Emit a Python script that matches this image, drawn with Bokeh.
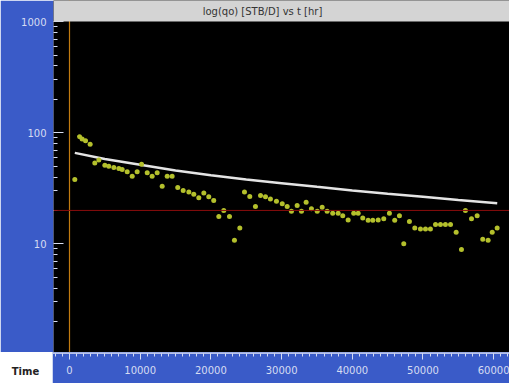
from bokeh.plotting import figure
from bokeh.layouts import column, row
from bokeh.models import Span, Label, FixedTicker, BoxAnnotation
from bokeh.embed import file_html
from bokeh.resources import INLINE

# Oil rate history (time in hours, rate in STB/D)
t_hr = [750, 1420, 1790, 2270, 2920, 3580, 4150, 5000, 5560, 6270, 6980, 7450,
        8160, 8870, 9570, 10190, 10990, 11690, 12400, 13110, 13820, 14520, 15310,
        16080, 16880, 17580, 18290, 19000, 19700, 20400, 21120, 21820, 22630,
        23330, 24090, 24750, 25500, 26300, 27020, 27720, 28420, 29270, 30090,
        30790, 31390, 32200, 32810, 33470, 34220, 35040, 35740, 36440, 37230,
        38000, 38650, 39410, 40200, 40830, 41480, 42240, 42900, 43660, 44450,
        45250, 46000, 46670, 47280, 48080, 48840, 49640, 50350, 51050, 51770,
        52470, 53170, 53890, 54690, 55440, 56000, 56860, 57660, 58450, 59210,
        59790, 60490]
qo = [38, 92, 88, 85, 79, 53.6, 57, 51, 50, 48.7, 47.7, 46.8,
      44.5, 40.6, 44.5, 52, 43.7, 40.6, 43.7, 33, 40.6, 40.6, 32.1,
      30.3, 29.3, 27.9, 26, 28.7, 26.5, 24.6, 17.6, 20, 17.6,
      10.8, 13.9, 29.3, 26.7, 21.7, 27.3, 26.5, 25.4, 24.2, 23,
      21.7, 19.7, 22.1, 19.7, 23.7, 20.7, 19.7, 21.4, 19.7, 18.9,
      18.9, 17.9, 16.4, 18.9, 18.9, 17.1, 16.3, 16.3, 16.4, 16.8,
      18.9, 16.3, 17.9, 10, 15.9, 13.9, 13.6, 13.6, 13.6, 14.9,
      14.9, 14.9, 14.9, 12.7, 8.9, 20, 16.8, 17.9, 11, 10.8,
      12.7, 13.9]

# Decline trend curve
t_fit = [750, 5000, 10000, 15000, 20000, 25000, 30000, 35000, 40000,
         45000, 50000, 55000, 60500]
q_fit = [66, 58, 51.5, 45.7, 41.5, 38, 35.2, 32.6, 30.3, 28.3, 26.5, 24.8, 23.2]

# Reference rate level and time origin marker
q_limit = 20
t_origin = 0

x_ticks = [0, 10000, 20000, 30000, 40000, 50000, 60000]
y_ticks = [1, 10, 100, 1000]
y_tick_labels = {1: "", 10: "10", 100: "100", 1000: "1000"}

title_text = "log(qo) [STB/D] vs t [hr]"
x_name = "Time"

W, H = 509, 383
LEFT, TOP, BOTTOM = 53, 21, 31
FW, PH = W - LEFT, H - BOTTOM          # plot area width, main figure height
BLUE = "#3a5bc8"
TICK = "#d6dcf2"
FONT = "DejaVu Sans"


def bare(fig, bg):
    fig.background_fill_color = bg
    fig.border_fill_color = bg
    fig.outline_line_color = None
    fig.xgrid.visible = False
    fig.ygrid.visible = False
    fig.title.visible = False
    return fig


# --- main plot with the log rate axis; its top strip carries the title -----
p = bare(figure(width=W, height=PH, y_axis_type="log",
                x_range=(-2263, 62235), y_range=(1.05, 1556),
                x_axis_location=None,
                output_backend="svg", toolbar_location=None,
                min_border_left=LEFT, min_border_right=0,
                min_border_top=0, min_border_bottom=0),
         "black")
p.border_fill_color = BLUE

ya = p.yaxis[0]
ya.ticker = FixedTicker(ticks=y_ticks,
                        minor_ticks=[m * d for d in [1, 10, 100] for m in range(2, 10)])
ya.major_label_overrides = y_tick_labels
ya.major_tick_in = 10
ya.major_tick_out = 0
ya.minor_tick_in = 4
ya.minor_tick_out = 0
ya.major_tick_line_color = TICK
ya.minor_tick_line_color = TICK
ya.axis_line_color = None
ya.major_label_standoff = 7
ya.major_label_text_color = TICK
ya.major_label_text_font = FONT
ya.major_label_text_font_size = "10px"

p.add_layout(Span(location=t_origin, dimension="height",
                  line_color="#c07a10", line_width=1.2))
p.add_layout(Span(location=q_limit, dimension="width",
                  line_color="#8a0c0c", line_width=1))

p.line(t_fit, q_fit, line_color="#e4e4e4", line_width=2.5)
p.scatter(t_hr, qo, size=5, fill_color="#b4c02c", line_color=None)

# title strip (screen offsets from the plot area's lower-left corner)
p.add_layout(BoxAnnotation(left=0, right=FW, bottom=PH - TOP, top=PH,
                           left_units="screen", right_units="screen",
                           bottom_units="screen", top_units="screen",
                           fill_color="#d4d4d4", fill_alpha=1,
                           line_color=None, level="overlay"))
p.add_layout(Label(x=262 - LEFT, y=PH - 10.5, x_units="screen", y_units="screen",
                   text=title_text, text_align="center", text_baseline="middle",
                   text_font=FONT, text_font_size="10px", text_color="#333333",
                   level="overlay"))

# --- corner box with the axis name ------------------------------------------
corner = bare(figure(frame_width=LEFT - 1, frame_height=BOTTOM, x_range=(0, LEFT - 1),
                     y_range=(0, BOTTOM), x_axis_location=None,
                     y_axis_location=None, min_border=0,
                     output_backend="svg", toolbar_location=None),
              "white")
corner.add_layout(Label(x=25, y=12, text=x_name, text_align="center",
                        text_baseline="middle", text_font=FONT,
                        text_font_size="10px", text_font_style="bold",
                        text_color="#222222"))

# --- time axis strip --------------------------------------------------------
xs = bare(figure(width=FW + 1, height=BOTTOM, x_range=(-2263 - 141, 62235),
                 y_range=(0, 1),
                 y_axis_location=None, min_border_left=0, min_border_right=0,
                 min_border_top=0, min_border_bottom=BOTTOM - 1,
                 output_backend="svg", toolbar_location=None),
          BLUE)
xa = xs.xaxis[0]
xa.ticker = FixedTicker(ticks=x_ticks,
                        minor_ticks=[k * 1000 for k in range(-2, 63)])
xa.major_tick_in = 0
xa.major_tick_out = 6
xa.minor_tick_in = 0
xa.minor_tick_out = 3
xa.major_tick_line_color = TICK
xa.minor_tick_line_color = TICK
xa.axis_line_color = TICK
xa.axis_line_alpha = 0.7
xa.major_label_standoff = 6
xa.major_label_text_color = TICK
xa.major_label_text_font = FONT
xa.major_label_text_font_size = "10px"

layout = column(p, row(corner, xs, spacing=0), spacing=0)

open("out.html", "w").write(file_html(layout, INLINE))
